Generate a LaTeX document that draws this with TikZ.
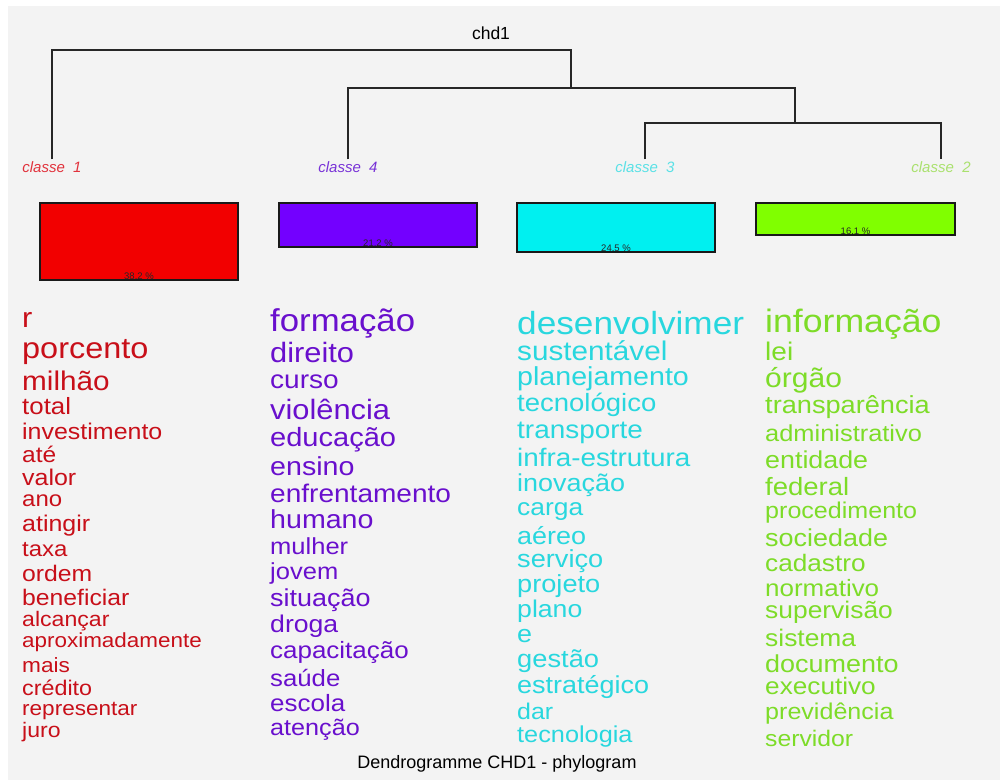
\documentclass[tikz,border=0pt]{standalone}
\usepackage{fontspec}
\setmainfont{Liberation Sans}
\usepackage{graphicx}
\definecolor{bggray}{RGB}{243,243,243}
\definecolor{boxA}{RGB}{242,0,0}
\definecolor{boxB}{RGB}{115,0,255}
\definecolor{boxC}{RGB}{0,240,240}
\definecolor{boxD}{RGB}{128,255,0}
\definecolor{txtA}{RGB}{200,15,25}
\definecolor{txtB}{RGB}{105,15,205}
\definecolor{txtC}{RGB}{40,215,222}
\definecolor{txtD}{RGB}{125,220,40}
\definecolor{labA}{RGB}{225,50,60}
\definecolor{labB}{RGB}{120,50,215}
\definecolor{labC}{RGB}{90,225,230}
\definecolor{labD}{RGB}{170,225,110}
\tikzset{
  dendro/.style={line width=1.5pt, draw=black!85},
  clabel/.style={font=\fontsize{15}{15}\selectfont\itshape, inner xsep=0pt, inner ysep=2pt},
  barbox/.style={draw=black!90, line width=1.2pt, anchor=north west, inner sep=0pt, outer sep=0pt},
  pct/.style={font=\fontsize{9.5}{9.5}\selectfont, text=black!85, anchor=base, inner sep=0pt},
  word/.style={anchor=base west, inner sep=0pt},
}
\begin{document}
\begin{tikzpicture}[x=1pt,y=-1pt]
\useasboundingbox (0,0) rectangle (1000,780);
\fill[white] (0,0) rectangle (1000,780);
\fill[bggray] (8,6) rectangle (1000,780);

% title
\node[font=\fontsize{17.5}{17.5}\selectfont, inner sep=0pt] (chd) at (491,33) {chd1};

% class labels
\node[clabel, text=labA] (lab1) at (52,167) {classe\ \ 1};
\node[clabel, text=labB] (lab4) at (348,167) {classe\ \ 4};
\node[clabel, text=labC] (lab3) at (645,167) {classe\ \ 3};
\node[clabel, text=labD] (lab2) at (941,167) {classe\ \ 2};

% dendrogram
\coordinate (ja) at (571,50);
\coordinate (jb) at (795,88);
\coordinate (jc) at (941,123);
\draw[dendro] (lab1.north) |- (ja) -- (ja |- jb);
\draw[dendro] (lab4.north) |- (jb) -- (jb |- jc);
\draw[dendro] (lab3.north) |- (jc) -- (lab2.north);

% bars
\node[barbox, fill=boxA, minimum width=198pt, minimum height=77pt] (b1) at (40,203) {};
\node[barbox, fill=boxB, minimum width=198pt, minimum height=44pt] (b4) at (279,203) {};
\node[barbox, fill=boxC, minimum width=198pt, minimum height=49pt] (b3) at (517,203) {};
\node[barbox, fill=boxD, minimum width=199pt, minimum height=32pt] (b2) at (756,203) {};
\node[pct] (p1) at ([yshift=1pt]b1.south) {38.2 \%};
\node[pct] (p4) at ([yshift=1pt]b4.south) {21.2 \%};
\node[pct] (p3) at ([yshift=1pt]b3.south) {24.5 \%};
\node[pct] (p2) at ([yshift=1pt]b2.south) {16.1 \%};

% class 1 words
\foreach \t/\y/\s [count=\i] in {r/327/28, porcento/358/29.5, milhão/390/27, total/414/23.5, investimento/439/22.7, até/462/22.3, valor/485/22.7, ano/506/21.8, atingir/531/22.7, taxa/556/21.8, ordem/581/22.5, beneficiar/605/22.5, alcançar/626/21, aproximadamente/647/20.4, mais/672/20.6, crédito/695/21.2, representar/715/20.5, juro/737/21}
  \node[word, text=txtA, font=\fontsize{\s}{\s}\selectfont] (wa\i) at (22,\y) {\scalebox{1.1}[1]{\t}};

% class 4 words
\foreach \t/\y/\s [count=\i] in {formação/331/31.6, direito/362/28, curso/388/25.5, violência/419/28, educação/446/26.4, ensino/475/26, enfrentamento/502/25.5, humano/528/26, mulher/554/23.2, jovem/579/23.2, situação/606/24.5, droga/632/24.2, capacitação/658/23.6, saúde/686/23.4, escola/711/23.6, atenção/735/22.9}
  \node[word, text=txtB, font=\fontsize{\s}{\s}\selectfont] (wb\i) at (270,\y) {\scalebox{1.1}[1]{\t}};

% class 3 words
\foreach \t/\y/\s [count=\i] in {desenvolvimer/334/32, sustentável/360/27, planejamento/385/26, tecnológico/411/25, transporte/438/25.4, infra-estrutura/466/25.3, inovação/491/24.5, carga/515/24, aéreo/544/24.5, serviço/567/24.7, projeto/592/24.7, plano/617/24.2, e/642/24.5, gestão/667/24.8, estratégico/693/24.5, dar/719/22.7, tecnologia/742/23}
  \node[word, text=txtC, font=\fontsize{\s}{\s}\selectfont] (wc\i) at (517,\y) {\scalebox{1.1}[1]{\t}};

% class 2 words
\foreach \t/\y/\s [count=\i] in {informação/332/32.4, lei/360/25.5, órgão/387/27.3, transparência/413/24.7, administrativo/441/23.1, entidade/468/24.4, federal/495/25, procedimento/518/22.8, sociedade/546/24.5, cadastro/571/23.8, normativo/596/23.6, supervisão/618/24, sistema/646/24, documento/672/24.5, executivo/694/23.8, previdência/719/22.8, servidor/746/22.5}
  \node[word, text=txtD, font=\fontsize{\s}{\s}\selectfont] (wd\i) at (765,\y) {\scalebox{1.1}[1]{\t}};

% bottom title
\node[font=\fontsize{18}{18}\selectfont, inner sep=0pt, anchor=base] (ttl) at (497,768) {Dendrogramme CHD1 - phylogram};
\end{tikzpicture}
\end{document}
